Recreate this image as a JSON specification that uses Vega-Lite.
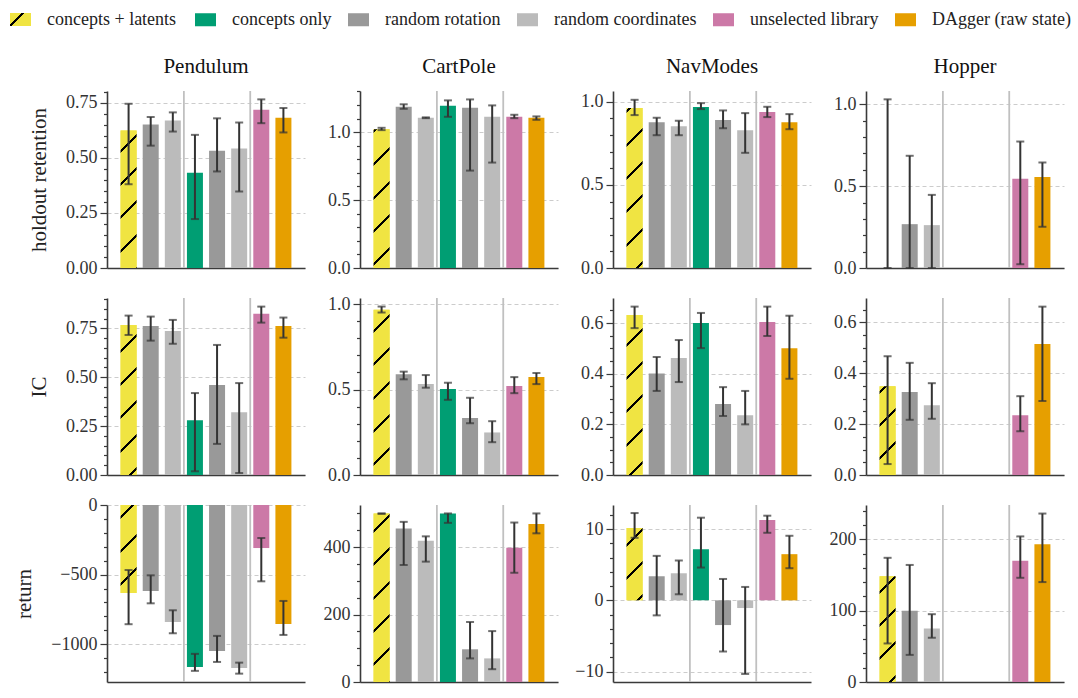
{
"$schema": "https://vega.github.io/schema/vega-lite/v6.json",
"padding": {"left": 10, "top": 9, "right": 0, "bottom": 5},
"datasets": {"d": [
{"env":"Pendulum","metric":"holdout","method":"concepts + latents","pos":0,"mean":0.624,"lo":0.380,"hi":0.745},
{"env":"Pendulum","metric":"holdout","method":"random rotation","pos":1,"mean":0.651,"lo":0.555,"hi":0.685},
{"env":"Pendulum","metric":"holdout","method":"random coordinates","pos":2,"mean":0.669,"lo":0.619,"hi":0.706},
{"env":"Pendulum","metric":"holdout","method":"concepts only","pos":3,"mean":0.432,"lo":0.222,"hi":0.604},
{"env":"Pendulum","metric":"holdout","method":"random rotation","pos":4,"mean":0.532,"lo":0.438,"hi":0.679},
{"env":"Pendulum","metric":"holdout","method":"random coordinates","pos":5,"mean":0.542,"lo":0.347,"hi":0.660},
{"env":"Pendulum","metric":"holdout","method":"unselected library","pos":6,"mean":0.718,"lo":0.657,"hi":0.765},
{"env":"Pendulum","metric":"holdout","method":"DAgger (raw state)","pos":7,"mean":0.682,"lo":0.615,"hi":0.726},
{"env":"CartPole","metric":"holdout","method":"concepts + latents","pos":0,"mean":1.022,"lo":1.015,"hi":1.032},
{"env":"CartPole","metric":"holdout","method":"random rotation","pos":1,"mean":1.187,"lo":1.172,"hi":1.205},
{"env":"CartPole","metric":"holdout","method":"random coordinates","pos":2,"mean":1.106,"lo":1.103,"hi":1.109},
{"env":"CartPole","metric":"holdout","method":"concepts only","pos":3,"mean":1.195,"lo":1.113,"hi":1.234},
{"env":"CartPole","metric":"holdout","method":"random rotation","pos":4,"mean":1.180,"lo":0.717,"hi":1.241},
{"env":"CartPole","metric":"holdout","method":"random coordinates","pos":5,"mean":1.113,"lo":0.776,"hi":1.197},
{"env":"CartPole","metric":"holdout","method":"unselected library","pos":6,"mean":1.113,"lo":1.103,"hi":1.128},
{"env":"CartPole","metric":"holdout","method":"DAgger (raw state)","pos":7,"mean":1.106,"lo":1.091,"hi":1.116},
{"env":"NavModes","metric":"holdout","method":"concepts + latents","pos":0,"mean":0.962,"lo":0.920,"hi":1.012},
{"env":"NavModes","metric":"holdout","method":"random rotation","pos":1,"mean":0.877,"lo":0.799,"hi":0.904},
{"env":"NavModes","metric":"holdout","method":"random coordinates","pos":2,"mean":0.853,"lo":0.799,"hi":0.886},
{"env":"NavModes","metric":"holdout","method":"concepts only","pos":3,"mean":0.968,"lo":0.956,"hi":0.992},
{"env":"NavModes","metric":"holdout","method":"random rotation","pos":4,"mean":0.890,"lo":0.841,"hi":0.948},
{"env":"NavModes","metric":"holdout","method":"random coordinates","pos":5,"mean":0.829,"lo":0.693,"hi":0.932},
{"env":"NavModes","metric":"holdout","method":"unselected library","pos":6,"mean":0.938,"lo":0.908,"hi":0.970},
{"env":"NavModes","metric":"holdout","method":"DAgger (raw state)","pos":7,"mean":0.877,"lo":0.835,"hi":0.926},
{"env":"Hopper","metric":"holdout","method":"concepts + latents","pos":0,"mean":0.0,"lo":0.0,"hi":1.031},
{"env":"Hopper","metric":"holdout","method":"random rotation","pos":1,"mean":0.268,"lo":0.0,"hi":0.686},
{"env":"Hopper","metric":"holdout","method":"random coordinates","pos":2,"mean":0.262,"lo":0.0,"hi":0.447},
{"env":"Hopper","metric":"holdout","method":"unselected library","pos":6,"mean":0.545,"lo":0.023,"hi":0.773},
{"env":"Hopper","metric":"holdout","method":"DAgger (raw state)","pos":7,"mean":0.557,"lo":0.252,"hi":0.645},
{"env":"Pendulum","metric":"IC","method":"concepts + latents","pos":0,"mean":0.767,"lo":0.716,"hi":0.815},
{"env":"Pendulum","metric":"IC","method":"random rotation","pos":1,"mean":0.762,"lo":0.687,"hi":0.810},
{"env":"Pendulum","metric":"IC","method":"random coordinates","pos":2,"mean":0.736,"lo":0.671,"hi":0.793},
{"env":"Pendulum","metric":"IC","method":"concepts only","pos":3,"mean":0.280,"lo":0.019,"hi":0.419},
{"env":"Pendulum","metric":"IC","method":"random rotation","pos":4,"mean":0.460,"lo":0.159,"hi":0.665},
{"env":"Pendulum","metric":"IC","method":"random coordinates","pos":5,"mean":0.321,"lo":0.010,"hi":0.470},
{"env":"Pendulum","metric":"IC","method":"unselected library","pos":6,"mean":0.824,"lo":0.779,"hi":0.861},
{"env":"Pendulum","metric":"IC","method":"DAgger (raw state)","pos":7,"mean":0.762,"lo":0.702,"hi":0.805},
{"env":"CartPole","metric":"IC","method":"concepts + latents","pos":0,"mean":0.967,"lo":0.951,"hi":0.986},
{"env":"CartPole","metric":"IC","method":"random rotation","pos":1,"mean":0.589,"lo":0.560,"hi":0.605},
{"env":"CartPole","metric":"IC","method":"random coordinates","pos":2,"mean":0.532,"lo":0.511,"hi":0.585},
{"env":"CartPole","metric":"IC","method":"concepts only","pos":3,"mean":0.503,"lo":0.440,"hi":0.540},
{"env":"CartPole","metric":"IC","method":"random rotation","pos":4,"mean":0.333,"lo":0.303,"hi":0.452},
{"env":"CartPole","metric":"IC","method":"random coordinates","pos":5,"mean":0.249,"lo":0.192,"hi":0.315},
{"env":"CartPole","metric":"IC","method":"unselected library","pos":6,"mean":0.521,"lo":0.479,"hi":0.573},
{"env":"CartPole","metric":"IC","method":"DAgger (raw state)","pos":7,"mean":0.573,"lo":0.532,"hi":0.597},
{"env":"NavModes","metric":"IC","method":"concepts + latents","pos":0,"mean":0.632,"lo":0.580,"hi":0.665},
{"env":"NavModes","metric":"IC","method":"random rotation","pos":1,"mean":0.401,"lo":0.332,"hi":0.466},
{"env":"NavModes","metric":"IC","method":"random coordinates","pos":2,"mean":0.462,"lo":0.367,"hi":0.533},
{"env":"NavModes","metric":"IC","method":"concepts only","pos":3,"mean":0.600,"lo":0.501,"hi":0.640},
{"env":"NavModes","metric":"IC","method":"random rotation","pos":4,"mean":0.280,"lo":0.233,"hi":0.347},
{"env":"NavModes","metric":"IC","method":"random coordinates","pos":5,"mean":0.236,"lo":0.200,"hi":0.332},
{"env":"NavModes","metric":"IC","method":"unselected library","pos":6,"mean":0.604,"lo":0.549,"hi":0.665},
{"env":"NavModes","metric":"IC","method":"DAgger (raw state)","pos":7,"mean":0.501,"lo":0.380,"hi":0.629},
{"env":"Hopper","metric":"IC","method":"concepts + latents","pos":0,"mean":0.349,"lo":0.043,"hi":0.467},
{"env":"Hopper","metric":"IC","method":"random rotation","pos":1,"mean":0.326,"lo":0.217,"hi":0.441},
{"env":"Hopper","metric":"IC","method":"random coordinates","pos":2,"mean":0.274,"lo":0.221,"hi":0.361},
{"env":"Hopper","metric":"IC","method":"unselected library","pos":6,"mean":0.235,"lo":0.172,"hi":0.310},
{"env":"Hopper","metric":"IC","method":"DAgger (raw state)","pos":7,"mean":0.515,"lo":0.291,"hi":0.662},
{"env":"Pendulum","metric":"return","method":"concepts + latents","pos":0,"mean":-632,"lo":-856,"hi":-467},
{"env":"Pendulum","metric":"return","method":"random rotation","pos":1,"mean":-617,"lo":-706,"hi":-505},
{"env":"Pendulum","metric":"return","method":"random coordinates","pos":2,"mean":-840,"lo":-921,"hi":-756},
{"env":"Pendulum","metric":"return","method":"concepts only","pos":3,"mean":-1163,"lo":-1191,"hi":-1069},
{"env":"Pendulum","metric":"return","method":"random rotation","pos":4,"mean":-1048,"lo":-1127,"hi":-940},
{"env":"Pendulum","metric":"return","method":"random coordinates","pos":5,"mean":-1170,"lo":-1211,"hi":-1132},
{"env":"Pendulum","metric":"return","method":"unselected library","pos":6,"mean":-309,"lo":-548,"hi":-237},
{"env":"Pendulum","metric":"return","method":"DAgger (raw state)","pos":7,"mean":-854,"lo":-933,"hi":-689},
{"env":"CartPole","metric":"return","method":"concepts + latents","pos":0,"mean":500,"lo":499,"hi":500},
{"env":"CartPole","metric":"return","method":"random rotation","pos":1,"mean":455,"lo":347,"hi":475},
{"env":"CartPole","metric":"return","method":"random coordinates","pos":2,"mean":419,"lo":357,"hi":432},
{"env":"CartPole","metric":"return","method":"concepts only","pos":3,"mean":500,"lo":472,"hi":500},
{"env":"CartPole","metric":"return","method":"random rotation","pos":4,"mean":97,"lo":70,"hi":178},
{"env":"CartPole","metric":"return","method":"random coordinates","pos":5,"mean":70,"lo":38,"hi":151},
{"env":"CartPole","metric":"return","method":"unselected library","pos":6,"mean":398,"lo":324,"hi":473},
{"env":"CartPole","metric":"return","method":"DAgger (raw state)","pos":7,"mean":469,"lo":441,"hi":500},
{"env":"NavModes","metric":"return","method":"concepts + latents","pos":0,"mean":10.14,"lo":8.78,"hi":12.25},
{"env":"NavModes","metric":"return","method":"random rotation","pos":1,"mean":3.38,"lo":-2.11,"hi":6.24},
{"env":"NavModes","metric":"return","method":"random coordinates","pos":2,"mean":3.80,"lo":0.85,"hi":5.59},
{"env":"NavModes","metric":"return","method":"concepts only","pos":3,"mean":7.18,"lo":4.60,"hi":11.6},
{"env":"NavModes","metric":"return","method":"random rotation","pos":4,"mean":-3.47,"lo":-7.18,"hi":3.0},
{"env":"NavModes","metric":"return","method":"random coordinates","pos":5,"mean":-1.08,"lo":-10.33,"hi":1.88},
{"env":"NavModes","metric":"return","method":"unselected library","pos":6,"mean":11.27,"lo":9.48,"hi":11.88},
{"env":"NavModes","metric":"return","method":"DAgger (raw state)","pos":7,"mean":6.48,"lo":4.51,"hi":9.06},
{"env":"Hopper","metric":"return","method":"concepts + latents","pos":0,"mean":148,"lo":54,"hi":174},
{"env":"Hopper","metric":"return","method":"random rotation","pos":1,"mean":100,"lo":38,"hi":164},
{"env":"Hopper","metric":"return","method":"random coordinates","pos":2,"mean":75,"lo":62,"hi":95},
{"env":"Hopper","metric":"return","method":"unselected library","pos":6,"mean":170,"lo":146,"hi":204},
{"env":"Hopper","metric":"return","method":"DAgger (raw state)","pos":7,"mean":193,"lo":140,"hi":236}
]},
"columns": 4,
"spacing": {"row": 30, "column": 55},
"bounds": "flush",
"concat": [
{"width": 198, "height": 177, "title": {"text": "Pendulum", "frame": "group", "offset": 13},
 "layer": [
  {"data": {"values": [{}]}, "mark": {"type": "rule", "color": "#c0c0c0", "strokeWidth": 1.8}, "encoding": {"x": {"datum": 2.5, "type": "quantitative"}}},
  {"data": {"values": [{}]}, "mark": {"type": "rule", "color": "#c0c0c0", "strokeWidth": 1.8}, "encoding": {"x": {"datum": 5.5, "type": "quantitative"}}},
  {"data": {"name": "d"}, "transform": [{"filter": "datum.env === 'Pendulum' && datum.metric === 'holdout'"}],
   "layer": [
    {"mark": {"type": "bar", "size": 16}, "encoding": {
      "x": {"field": "pos", "type": "quantitative", "scale": {"domain": [-0.75, 7.75], "nice": false, "zero": false}, "axis": {"ticks": false, "labels": false, "grid": false, "title": null}},
      "y": {"field": "mean", "type": "quantitative", "scale": {"domain": [0, 0.803], "nice": false, "zero": false},
        "axis": {"title": "holdout retention", "tickCount": 100, "labelFont": "Liberation Serif", "labelOverlap": false, "values": [0,0.05,0.1,0.15,0.2,0.25,0.3,0.35,0.4,0.45,0.5,0.55,0.6,0.65,0.7,0.75,0.8], "format": ".2f",
          "labelExpr": "indexof([0,0.25,0.5,0.75], datum.value) >= 0 ? datum.label : ''",
          "labelFontSize": {"condition": {"test": "indexof([0,0.25,0.5,0.75], datum.value) >= 0", "value": 18}, "value": 0},
          "tickSize": {"condition": {"test": "indexof([0,0.25,0.5,0.75], datum.value) >= 0", "value": 7}, "value": 3.5},
          "gridOpacity": {"condition": {"test": "indexof([0,0.25,0.5,0.75], datum.value) >= 0", "value": 1}, "value": 0}}},
      "y2": {"datum": 0},
      "color": {"field": "method", "type": "nominal",
        "scale": {"domain": ["concepts + latents", "concepts only", "random rotation", "random coordinates", "unselected library", "DAgger (raw state)"], "range": ["#F0E442", "#009E73", "#999999", "#BBBBBB", "#CC79A7", "#E69F00"]},
        "legend": {"title": null, "orient": "none", "legendX": 88, "legendY": -82, "direction": "horizontal", "labelFont": "Liberation Serif", "labelFontSize": 18,
          "values": ["concepts only", "random rotation", "random coordinates", "unselected library", "DAgger (raw state)"]}}}},
    {"transform": [{"filter": "datum.pos === 0"}], "mark": {"type": "bar", "size": 16, "color": {"gradient": "linear", "x1": 0, "y1": 0, "x2": 0.1282, "y2": 1.1015, "stops": [
      {"offset": 0, "color": "#F0E442"}, {"offset": 0.1247, "color": "#F0E442"}, {"offset": 0.1247, "color": "#000"}, {"offset": 0.1442, "color": "#000"}, {"offset": 0.1442, "color": "#F0E442"},
      {"offset": 0.3418, "color": "#F0E442"}, {"offset": 0.3418, "color": "#000"}, {"offset": 0.3614, "color": "#000"}, {"offset": 0.3614, "color": "#F0E442"},
      {"offset": 0.5590, "color": "#F0E442"}, {"offset": 0.5590, "color": "#000"}, {"offset": 0.5785, "color": "#000"}, {"offset": 0.5785, "color": "#F0E442"},
      {"offset": 0.7761, "color": "#F0E442"}, {"offset": 0.7761, "color": "#000"}, {"offset": 0.7956, "color": "#000"}, {"offset": 0.7956, "color": "#F0E442"},
      {"offset": 0.9932, "color": "#F0E442"}, {"offset": 0.9932, "color": "#000"}, {"offset": 1, "color": "#000"}]}},
     "encoding": {"x": {"field": "pos", "type": "quantitative"}, "y": {"field": "mean", "type": "quantitative"}, "y2": {"datum": 0}}},
    {"transform": [{"filter": "false"}], "mark": {"type": "bar", "size": 16, "color": {"gradient": "linear", "x1": 0, "y1": 0, "x2": 1.1705, "y2": 0.7246, "stops": [
      {"offset": 0, "color": "#F0E442"}, {"offset": 0.33, "color": "#F0E442"}, {"offset": 0.33, "color": "#000"}, {"offset": 0.43, "color": "#000"}, {"offset": 0.43, "color": "#F0E442"}, {"offset": 1, "color": "#F0E442"}]}},
     "encoding": {"x": {"field": "pos", "type": "quantitative"}, "y": {"field": "mean", "type": "quantitative"},
       "opacity": {"datum": "concepts + latents", "type": "nominal", "scale": {"domain": ["concepts + latents"], "range": [1]},
         "legend": {"title": null, "orient": "none", "legendX": -97, "legendY": -82, "direction": "horizontal", "labelFont": "Liberation Serif", "labelFontSize": 18, "symbolType": "M-1,-0.62H1V0.62H-1Z", "symbolSize": 441}}}},
    {"mark": {"type": "rule", "color": "#333333", "strokeWidth": 2}, "encoding": {"x": {"field": "pos", "type": "quantitative"}, "y": {"field": "lo", "type": "quantitative"}, "y2": {"field": "hi"}}},
    {"mark": {"type": "tick", "orient": "horizontal", "size": 8, "thickness": 2, "color": "#333333"}, "encoding": {"x": {"field": "pos", "type": "quantitative"}, "y": {"field": "lo", "type": "quantitative"}}},
    {"mark": {"type": "tick", "orient": "horizontal", "size": 8, "thickness": 2, "color": "#333333"}, "encoding": {"x": {"field": "pos", "type": "quantitative"}, "y": {"field": "hi", "type": "quantitative"}}}
   ]}
 ]},
{"width": 198, "height": 177, "title": {"text": "CartPole", "frame": "group", "offset": 13},
 "layer": [
  {"data": {"values": [{}]}, "mark": {"type": "rule", "color": "#c0c0c0", "strokeWidth": 1.8}, "encoding": {"x": {"datum": 2.5, "type": "quantitative"}}},
  {"data": {"values": [{}]}, "mark": {"type": "rule", "color": "#c0c0c0", "strokeWidth": 1.8}, "encoding": {"x": {"datum": 5.5, "type": "quantitative"}}},
  {"data": {"name": "d"}, "transform": [{"filter": "datum.env === 'CartPole' && datum.metric === 'holdout'"}],
   "layer": [
    {"mark": {"type": "bar", "size": 16}, "encoding": {
      "x": {"field": "pos", "type": "quantitative", "scale": {"domain": [-0.75, 7.75], "nice": false, "zero": false}, "axis": {"ticks": false, "labels": false, "grid": false, "title": null}},
      "y": {"field": "mean", "type": "quantitative", "scale": {"domain": [0, 1.303], "nice": false, "zero": false},
        "axis": {"title": null, "tickCount": 100, "labelFont": "Liberation Serif", "labelOverlap": false, "values": [0,0.1,0.2,0.3,0.4,0.5,0.6,0.7,0.8,0.9,1,1.1,1.2,1.3], "format": ".1f",
          "labelExpr": "indexof([0,0.5,1], datum.value) >= 0 ? datum.label : ''",
          "labelFontSize": {"condition": {"test": "indexof([0,0.5,1], datum.value) >= 0", "value": 18}, "value": 0},
          "tickSize": {"condition": {"test": "indexof([0,0.5,1], datum.value) >= 0", "value": 7}, "value": 3.5},
          "gridOpacity": {"condition": {"test": "indexof([0,0.5,1], datum.value) >= 0", "value": 1}, "value": 0}}},
      "y2": {"datum": 0},
      "color": {"field": "method", "type": "nominal", "scale": {"domain": ["concepts + latents", "concepts only", "random rotation", "random coordinates", "unselected library", "DAgger (raw state)"], "range": ["#F0E442", "#009E73", "#999999", "#BBBBBB", "#CC79A7", "#E69F00"]}}}},
    {"transform": [{"filter": "datum.pos === 0"}], "mark": {"type": "bar", "size": 16, "color": {"gradient": "linear", "x1": 0, "y1": 0, "x2": 0.1269, "y2": 1.1007, "stops": [
      {"offset": 0, "color": "#F0E442"}, {"offset": 0.0048, "color": "#F0E442"}, {"offset": 0.0048, "color": "#000"}, {"offset": 0.0242, "color": "#000"}, {"offset": 0.0242, "color": "#F0E442"},
      {"offset": 0.2202, "color": "#F0E442"}, {"offset": 0.2202, "color": "#000"}, {"offset": 0.2395, "color": "#000"}, {"offset": 0.2395, "color": "#F0E442"},
      {"offset": 0.4355, "color": "#F0E442"}, {"offset": 0.4355, "color": "#000"}, {"offset": 0.4548, "color": "#000"}, {"offset": 0.4548, "color": "#F0E442"},
      {"offset": 0.6508, "color": "#F0E442"}, {"offset": 0.6508, "color": "#000"}, {"offset": 0.6702, "color": "#000"}, {"offset": 0.6702, "color": "#F0E442"},
      {"offset": 0.8661, "color": "#F0E442"}, {"offset": 0.8661, "color": "#000"}, {"offset": 0.8855, "color": "#000"}, {"offset": 0.8855, "color": "#F0E442"},
      {"offset": 1, "color": "#F0E442"}]}},
     "encoding": {"x": {"field": "pos", "type": "quantitative"}, "y": {"field": "mean", "type": "quantitative"}, "y2": {"datum": 0}}},
    {"mark": {"type": "rule", "color": "#333333", "strokeWidth": 2}, "encoding": {"x": {"field": "pos", "type": "quantitative"}, "y": {"field": "lo", "type": "quantitative"}, "y2": {"field": "hi"}}},
    {"mark": {"type": "tick", "orient": "horizontal", "size": 8, "thickness": 2, "color": "#333333"}, "encoding": {"x": {"field": "pos", "type": "quantitative"}, "y": {"field": "lo", "type": "quantitative"}}},
    {"mark": {"type": "tick", "orient": "horizontal", "size": 8, "thickness": 2, "color": "#333333"}, "encoding": {"x": {"field": "pos", "type": "quantitative"}, "y": {"field": "hi", "type": "quantitative"}}}
   ]}
 ]},
{"width": 198, "height": 177, "title": {"text": "NavModes", "frame": "group", "offset": 13},
 "layer": [
  {"data": {"values": [{}]}, "mark": {"type": "rule", "color": "#c0c0c0", "strokeWidth": 1.8}, "encoding": {"x": {"datum": 2.5, "type": "quantitative"}}},
  {"data": {"values": [{}]}, "mark": {"type": "rule", "color": "#c0c0c0", "strokeWidth": 1.8}, "encoding": {"x": {"datum": 5.5, "type": "quantitative"}}},
  {"data": {"name": "d"}, "transform": [{"filter": "datum.env === 'NavModes' && datum.metric === 'holdout'"}],
   "layer": [
    {"mark": {"type": "bar", "size": 16}, "encoding": {
      "x": {"field": "pos", "type": "quantitative", "scale": {"domain": [-0.75, 7.75], "nice": false, "zero": false}, "axis": {"ticks": false, "labels": false, "grid": false, "title": null}},
      "y": {"field": "mean", "type": "quantitative", "scale": {"domain": [0, 1.065], "nice": false, "zero": false},
        "axis": {"title": null, "tickCount": 100, "labelFont": "Liberation Serif", "labelOverlap": false, "values": [0,0.1,0.2,0.3,0.4,0.5,0.6,0.7,0.8,0.9,1], "format": ".1f",
          "labelExpr": "indexof([0,0.5,1], datum.value) >= 0 ? datum.label : ''",
          "labelFontSize": {"condition": {"test": "indexof([0,0.5,1], datum.value) >= 0", "value": 18}, "value": 0},
          "tickSize": {"condition": {"test": "indexof([0,0.5,1], datum.value) >= 0", "value": 7}, "value": 3.5},
          "gridOpacity": {"condition": {"test": "indexof([0,0.5,1], datum.value) >= 0", "value": 1}, "value": 0}}},
      "y2": {"datum": 0},
      "color": {"field": "method", "type": "nominal", "scale": {"domain": ["concepts + latents", "concepts only", "random rotation", "random coordinates", "unselected library", "DAgger (raw state)"], "range": ["#F0E442", "#009E73", "#999999", "#BBBBBB", "#CC79A7", "#E69F00"]}}}},
    {"transform": [{"filter": "datum.pos === 0"}], "mark": {"type": "bar", "size": 16, "color": {"gradient": "linear", "x1": 0, "y1": 0, "x2": 0.1090, "y2": 1.0892, "stops": [
      {"offset": 0, "color": "#F0E442"}, {"offset": 0.0123, "color": "#F0E442"}, {"offset": 0.0123, "color": "#000"}, {"offset": 0.0293, "color": "#000"}, {"offset": 0.0293, "color": "#F0E442"},
      {"offset": 0.2018, "color": "#F0E442"}, {"offset": 0.2018, "color": "#000"}, {"offset": 0.2188, "color": "#000"}, {"offset": 0.2188, "color": "#F0E442"},
      {"offset": 0.3912, "color": "#F0E442"}, {"offset": 0.3912, "color": "#000"}, {"offset": 0.4083, "color": "#000"}, {"offset": 0.4083, "color": "#F0E442"},
      {"offset": 0.5807, "color": "#F0E442"}, {"offset": 0.5807, "color": "#000"}, {"offset": 0.5978, "color": "#000"}, {"offset": 0.5978, "color": "#F0E442"},
      {"offset": 0.7702, "color": "#F0E442"}, {"offset": 0.7702, "color": "#000"}, {"offset": 0.7873, "color": "#000"}, {"offset": 0.7873, "color": "#F0E442"},
      {"offset": 0.9597, "color": "#F0E442"}, {"offset": 0.9597, "color": "#000"}, {"offset": 0.9767, "color": "#000"}, {"offset": 0.9767, "color": "#F0E442"},
      {"offset": 1, "color": "#F0E442"}]}},
     "encoding": {"x": {"field": "pos", "type": "quantitative"}, "y": {"field": "mean", "type": "quantitative"}, "y2": {"datum": 0}}},
    {"mark": {"type": "rule", "color": "#333333", "strokeWidth": 2}, "encoding": {"x": {"field": "pos", "type": "quantitative"}, "y": {"field": "lo", "type": "quantitative"}, "y2": {"field": "hi"}}},
    {"mark": {"type": "tick", "orient": "horizontal", "size": 8, "thickness": 2, "color": "#333333"}, "encoding": {"x": {"field": "pos", "type": "quantitative"}, "y": {"field": "lo", "type": "quantitative"}}},
    {"mark": {"type": "tick", "orient": "horizontal", "size": 8, "thickness": 2, "color": "#333333"}, "encoding": {"x": {"field": "pos", "type": "quantitative"}, "y": {"field": "hi", "type": "quantitative"}}}
   ]}
 ]},
{"width": 198, "height": 177, "title": {"text": "Hopper", "frame": "group", "offset": 13},
 "layer": [
  {"data": {"values": [{}]}, "mark": {"type": "rule", "color": "#c0c0c0", "strokeWidth": 1.8}, "encoding": {"x": {"datum": 2.5, "type": "quantitative"}}},
  {"data": {"values": [{}]}, "mark": {"type": "rule", "color": "#c0c0c0", "strokeWidth": 1.8}, "encoding": {"x": {"datum": 5.5, "type": "quantitative"}}},
  {"data": {"name": "d"}, "transform": [{"filter": "datum.env === 'Hopper' && datum.metric === 'holdout'"}],
   "layer": [
    {"mark": {"type": "bar", "size": 16}, "encoding": {
      "x": {"field": "pos", "type": "quantitative", "scale": {"domain": [-0.75, 7.75], "nice": false, "zero": false}, "axis": {"ticks": false, "labels": false, "grid": false, "title": null}},
      "y": {"field": "mean", "type": "quantitative", "scale": {"domain": [0, 1.082], "nice": false, "zero": false},
        "axis": {"title": null, "tickCount": 100, "labelFont": "Liberation Serif", "labelOverlap": false, "values": [0,0.1,0.2,0.3,0.4,0.5,0.6,0.7,0.8,0.9,1], "format": ".1f",
          "labelExpr": "indexof([0,0.5,1], datum.value) >= 0 ? datum.label : ''",
          "labelFontSize": {"condition": {"test": "indexof([0,0.5,1], datum.value) >= 0", "value": 18}, "value": 0},
          "tickSize": {"condition": {"test": "indexof([0,0.5,1], datum.value) >= 0", "value": 7}, "value": 3.5},
          "gridOpacity": {"condition": {"test": "indexof([0,0.5,1], datum.value) >= 0", "value": 1}, "value": 0}}},
      "y2": {"datum": 0},
      "color": {"field": "method", "type": "nominal", "scale": {"domain": ["concepts + latents", "concepts only", "random rotation", "random coordinates", "unselected library", "DAgger (raw state)"], "range": ["#F0E442", "#009E73", "#999999", "#BBBBBB", "#CC79A7", "#E69F00"]}}}},
    {"mark": {"type": "rule", "color": "#333333", "strokeWidth": 2}, "encoding": {"x": {"field": "pos", "type": "quantitative"}, "y": {"field": "lo", "type": "quantitative"}, "y2": {"field": "hi"}}},
    {"mark": {"type": "tick", "orient": "horizontal", "size": 8, "thickness": 2, "color": "#333333"}, "encoding": {"x": {"field": "pos", "type": "quantitative"}, "y": {"field": "lo", "type": "quantitative"}}},
    {"mark": {"type": "tick", "orient": "horizontal", "size": 8, "thickness": 2, "color": "#333333"}, "encoding": {"x": {"field": "pos", "type": "quantitative"}, "y": {"field": "hi", "type": "quantitative"}}}
   ]}
 ]},
{"width": 198, "height": 177,
 "layer": [
  {"data": {"values": [{}]}, "mark": {"type": "rule", "color": "#c0c0c0", "strokeWidth": 1.8}, "encoding": {"x": {"datum": 2.5, "type": "quantitative"}}},
  {"data": {"values": [{}]}, "mark": {"type": "rule", "color": "#c0c0c0", "strokeWidth": 1.8}, "encoding": {"x": {"datum": 5.5, "type": "quantitative"}}},
  {"data": {"name": "d"}, "transform": [{"filter": "datum.env === 'Pendulum' && datum.metric === 'IC'"}],
   "layer": [
    {"mark": {"type": "bar", "size": 16}, "encoding": {
      "x": {"field": "pos", "type": "quantitative", "scale": {"domain": [-0.75, 7.75], "nice": false, "zero": false}, "axis": {"ticks": false, "labels": false, "grid": false, "title": null}},
      "y": {"field": "mean", "type": "quantitative", "scale": {"domain": [0, 0.905], "nice": false, "zero": false},
        "axis": {"title": "IC", "tickCount": 100, "labelFont": "Liberation Serif", "labelOverlap": false, "values": [0,0.05,0.1,0.15,0.2,0.25,0.3,0.35,0.4,0.45,0.5,0.55,0.6,0.65,0.7,0.75,0.8,0.85,0.9], "format": ".2f",
          "labelExpr": "indexof([0,0.25,0.5,0.75], datum.value) >= 0 ? datum.label : ''",
          "labelFontSize": {"condition": {"test": "indexof([0,0.25,0.5,0.75], datum.value) >= 0", "value": 18}, "value": 0},
          "tickSize": {"condition": {"test": "indexof([0,0.25,0.5,0.75], datum.value) >= 0", "value": 7}, "value": 3.5},
          "gridOpacity": {"condition": {"test": "indexof([0,0.25,0.5,0.75], datum.value) >= 0", "value": 1}, "value": 0}}},
      "y2": {"datum": 0},
      "color": {"field": "method", "type": "nominal", "scale": {"domain": ["concepts + latents", "concepts only", "random rotation", "random coordinates", "unselected library", "DAgger (raw state)"], "range": ["#F0E442", "#009E73", "#999999", "#BBBBBB", "#CC79A7", "#E69F00"]}}}},
    {"transform": [{"filter": "datum.pos === 0"}], "mark": {"type": "bar", "size": 16, "color": {"gradient": "linear", "x1": 0, "y1": 0, "x2": 0.1167, "y2": 1.0942, "stops": [
      {"offset": 0, "color": "#F0E442"}, {"offset": 0.1483, "color": "#F0E442"}, {"offset": 0.1483, "color": "#000"}, {"offset": 0.1664, "color": "#000"}, {"offset": 0.1664, "color": "#F0E442"},
      {"offset": 0.3491, "color": "#F0E442"}, {"offset": 0.3491, "color": "#000"}, {"offset": 0.3672, "color": "#000"}, {"offset": 0.3672, "color": "#F0E442"},
      {"offset": 0.5499, "color": "#F0E442"}, {"offset": 0.5499, "color": "#000"}, {"offset": 0.5680, "color": "#000"}, {"offset": 0.5680, "color": "#F0E442"},
      {"offset": 0.7507, "color": "#F0E442"}, {"offset": 0.7507, "color": "#000"}, {"offset": 0.7687, "color": "#000"}, {"offset": 0.7687, "color": "#F0E442"},
      {"offset": 0.9514, "color": "#F0E442"}, {"offset": 0.9514, "color": "#000"}, {"offset": 0.9695, "color": "#000"}, {"offset": 0.9695, "color": "#F0E442"},
      {"offset": 1, "color": "#F0E442"}]}},
     "encoding": {"x": {"field": "pos", "type": "quantitative"}, "y": {"field": "mean", "type": "quantitative"}, "y2": {"datum": 0}}},
    {"mark": {"type": "rule", "color": "#333333", "strokeWidth": 2}, "encoding": {"x": {"field": "pos", "type": "quantitative"}, "y": {"field": "lo", "type": "quantitative"}, "y2": {"field": "hi"}}},
    {"mark": {"type": "tick", "orient": "horizontal", "size": 8, "thickness": 2, "color": "#333333"}, "encoding": {"x": {"field": "pos", "type": "quantitative"}, "y": {"field": "lo", "type": "quantitative"}}},
    {"mark": {"type": "tick", "orient": "horizontal", "size": 8, "thickness": 2, "color": "#333333"}, "encoding": {"x": {"field": "pos", "type": "quantitative"}, "y": {"field": "hi", "type": "quantitative"}}}
   ]}
 ]},
{"width": 198, "height": 177,
 "layer": [
  {"data": {"values": [{}]}, "mark": {"type": "rule", "color": "#c0c0c0", "strokeWidth": 1.8}, "encoding": {"x": {"datum": 2.5, "type": "quantitative"}}},
  {"data": {"values": [{}]}, "mark": {"type": "rule", "color": "#c0c0c0", "strokeWidth": 1.8}, "encoding": {"x": {"datum": 5.5, "type": "quantitative"}}},
  {"data": {"name": "d"}, "transform": [{"filter": "datum.env === 'CartPole' && datum.metric === 'IC'"}],
   "layer": [
    {"mark": {"type": "bar", "size": 16}, "encoding": {
      "x": {"field": "pos", "type": "quantitative", "scale": {"domain": [-0.75, 7.75], "nice": false, "zero": false}, "axis": {"ticks": false, "labels": false, "grid": false, "title": null}},
      "y": {"field": "mean", "type": "quantitative", "scale": {"domain": [0, 1.036], "nice": false, "zero": false},
        "axis": {"title": null, "tickCount": 100, "labelFont": "Liberation Serif", "labelOverlap": false, "values": [0,0.1,0.2,0.3,0.4,0.5,0.6,0.7,0.8,0.9,1], "format": ".1f",
          "labelExpr": "indexof([0,0.5,1], datum.value) >= 0 ? datum.label : ''",
          "labelFontSize": {"condition": {"test": "indexof([0,0.5,1], datum.value) >= 0", "value": 18}, "value": 0},
          "tickSize": {"condition": {"test": "indexof([0,0.5,1], datum.value) >= 0", "value": 7}, "value": 3.5},
          "gridOpacity": {"condition": {"test": "indexof([0,0.5,1], datum.value) >= 0", "value": 1}, "value": 0}}},
      "y2": {"datum": 0},
      "color": {"field": "method", "type": "nominal", "scale": {"domain": ["concepts + latents", "concepts only", "random rotation", "random coordinates", "unselected library", "DAgger (raw state)"], "range": ["#F0E442", "#009E73", "#999999", "#BBBBBB", "#CC79A7", "#E69F00"]}}}},
    {"transform": [{"filter": "datum.pos === 0"}], "mark": {"type": "bar", "size": 16, "color": {"gradient": "linear", "x1": 0, "y1": 0, "x2": 0.1052, "y2": 1.0867, "stops": [
      {"offset": 0, "color": "#F0E442"}, {"offset": 0.1111, "color": "#F0E442"}, {"offset": 0.1111, "color": "#000"}, {"offset": 0.1276, "color": "#000"}, {"offset": 0.1276, "color": "#F0E442"},
      {"offset": 0.2950, "color": "#F0E442"}, {"offset": 0.2950, "color": "#000"}, {"offset": 0.3116, "color": "#000"}, {"offset": 0.3116, "color": "#F0E442"},
      {"offset": 0.4790, "color": "#F0E442"}, {"offset": 0.4790, "color": "#000"}, {"offset": 0.4955, "color": "#000"}, {"offset": 0.4955, "color": "#F0E442"},
      {"offset": 0.6629, "color": "#F0E442"}, {"offset": 0.6629, "color": "#000"}, {"offset": 0.6795, "color": "#000"}, {"offset": 0.6795, "color": "#F0E442"},
      {"offset": 0.8469, "color": "#F0E442"}, {"offset": 0.8469, "color": "#000"}, {"offset": 0.8634, "color": "#000"}, {"offset": 0.8634, "color": "#F0E442"},
      {"offset": 1, "color": "#F0E442"}]}},
     "encoding": {"x": {"field": "pos", "type": "quantitative"}, "y": {"field": "mean", "type": "quantitative"}, "y2": {"datum": 0}}},
    {"mark": {"type": "rule", "color": "#333333", "strokeWidth": 2}, "encoding": {"x": {"field": "pos", "type": "quantitative"}, "y": {"field": "lo", "type": "quantitative"}, "y2": {"field": "hi"}}},
    {"mark": {"type": "tick", "orient": "horizontal", "size": 8, "thickness": 2, "color": "#333333"}, "encoding": {"x": {"field": "pos", "type": "quantitative"}, "y": {"field": "lo", "type": "quantitative"}}},
    {"mark": {"type": "tick", "orient": "horizontal", "size": 8, "thickness": 2, "color": "#333333"}, "encoding": {"x": {"field": "pos", "type": "quantitative"}, "y": {"field": "hi", "type": "quantitative"}}}
   ]}
 ]},
{"width": 198, "height": 177,
 "layer": [
  {"data": {"values": [{}]}, "mark": {"type": "rule", "color": "#c0c0c0", "strokeWidth": 1.8}, "encoding": {"x": {"datum": 2.5, "type": "quantitative"}}},
  {"data": {"values": [{}]}, "mark": {"type": "rule", "color": "#c0c0c0", "strokeWidth": 1.8}, "encoding": {"x": {"datum": 5.5, "type": "quantitative"}}},
  {"data": {"name": "d"}, "transform": [{"filter": "datum.env === 'NavModes' && datum.metric === 'IC'"}],
   "layer": [
    {"mark": {"type": "bar", "size": 16}, "encoding": {
      "x": {"field": "pos", "type": "quantitative", "scale": {"domain": [-0.75, 7.75], "nice": false, "zero": false}, "axis": {"ticks": false, "labels": false, "grid": false, "title": null}},
      "y": {"field": "mean", "type": "quantitative", "scale": {"domain": [0, 0.699], "nice": false, "zero": false},
        "axis": {"title": null, "tickCount": 100, "labelFont": "Liberation Serif", "labelOverlap": false, "values": [0,0.05,0.1,0.15,0.2,0.25,0.3,0.35,0.4,0.45,0.5,0.55,0.6,0.65], "format": ".1f",
          "labelExpr": "indexof([0,0.2,0.4,0.6], datum.value) >= 0 ? datum.label : ''",
          "labelFontSize": {"condition": {"test": "indexof([0,0.2,0.4,0.6], datum.value) >= 0", "value": 18}, "value": 0},
          "tickSize": {"condition": {"test": "indexof([0,0.2,0.4,0.6], datum.value) >= 0", "value": 7}, "value": 3.5},
          "gridOpacity": {"condition": {"test": "indexof([0,0.2,0.4,0.6], datum.value) >= 0", "value": 1}, "value": 0}}},
      "y2": {"datum": 0},
      "color": {"field": "method", "type": "nominal", "scale": {"domain": ["concepts + latents", "concepts only", "random rotation", "random coordinates", "unselected library", "DAgger (raw state)"], "range": ["#F0E442", "#009E73", "#999999", "#BBBBBB", "#CC79A7", "#E69F00"]}}}},
    {"transform": [{"filter": "datum.pos === 0"}], "mark": {"type": "bar", "size": 16, "color": {"gradient": "linear", "x1": 0, "y1": 0, "x2": 0.1089, "y2": 1.0891, "stops": [
      {"offset": 0, "color": "#F0E442"}, {"offset": 0.1623, "color": "#F0E442"}, {"offset": 0.1623, "color": "#000"}, {"offset": 0.1794, "color": "#000"}, {"offset": 0.1794, "color": "#F0E442"},
      {"offset": 0.3517, "color": "#F0E442"}, {"offset": 0.3517, "color": "#000"}, {"offset": 0.3688, "color": "#000"}, {"offset": 0.3688, "color": "#F0E442"},
      {"offset": 0.5411, "color": "#F0E442"}, {"offset": 0.5411, "color": "#000"}, {"offset": 0.5581, "color": "#000"}, {"offset": 0.5581, "color": "#F0E442"},
      {"offset": 0.7305, "color": "#F0E442"}, {"offset": 0.7305, "color": "#000"}, {"offset": 0.7475, "color": "#000"}, {"offset": 0.7475, "color": "#F0E442"},
      {"offset": 0.9198, "color": "#F0E442"}, {"offset": 0.9198, "color": "#000"}, {"offset": 0.9369, "color": "#000"}, {"offset": 0.9369, "color": "#F0E442"},
      {"offset": 1, "color": "#F0E442"}]}},
     "encoding": {"x": {"field": "pos", "type": "quantitative"}, "y": {"field": "mean", "type": "quantitative"}, "y2": {"datum": 0}}},
    {"mark": {"type": "rule", "color": "#333333", "strokeWidth": 2}, "encoding": {"x": {"field": "pos", "type": "quantitative"}, "y": {"field": "lo", "type": "quantitative"}, "y2": {"field": "hi"}}},
    {"mark": {"type": "tick", "orient": "horizontal", "size": 8, "thickness": 2, "color": "#333333"}, "encoding": {"x": {"field": "pos", "type": "quantitative"}, "y": {"field": "lo", "type": "quantitative"}}},
    {"mark": {"type": "tick", "orient": "horizontal", "size": 8, "thickness": 2, "color": "#333333"}, "encoding": {"x": {"field": "pos", "type": "quantitative"}, "y": {"field": "hi", "type": "quantitative"}}}
   ]}
 ]},
{"width": 198, "height": 177,
 "layer": [
  {"data": {"values": [{}]}, "mark": {"type": "rule", "color": "#c0c0c0", "strokeWidth": 1.8}, "encoding": {"x": {"datum": 2.5, "type": "quantitative"}}},
  {"data": {"values": [{}]}, "mark": {"type": "rule", "color": "#c0c0c0", "strokeWidth": 1.8}, "encoding": {"x": {"datum": 5.5, "type": "quantitative"}}},
  {"data": {"name": "d"}, "transform": [{"filter": "datum.env === 'Hopper' && datum.metric === 'IC'"}],
   "layer": [
    {"mark": {"type": "bar", "size": 16}, "encoding": {
      "x": {"field": "pos", "type": "quantitative", "scale": {"domain": [-0.75, 7.75], "nice": false, "zero": false}, "axis": {"ticks": false, "labels": false, "grid": false, "title": null}},
      "y": {"field": "mean", "type": "quantitative", "scale": {"domain": [0, 0.696], "nice": false, "zero": false},
        "axis": {"title": null, "tickCount": 100, "labelFont": "Liberation Serif", "labelOverlap": false, "values": [0,0.05,0.1,0.15,0.2,0.25,0.3,0.35,0.4,0.45,0.5,0.55,0.6,0.65], "format": ".1f",
          "labelExpr": "indexof([0,0.2,0.4,0.6], datum.value) >= 0 ? datum.label : ''",
          "labelFontSize": {"condition": {"test": "indexof([0,0.2,0.4,0.6], datum.value) >= 0", "value": 18}, "value": 0},
          "tickSize": {"condition": {"test": "indexof([0,0.2,0.4,0.6], datum.value) >= 0", "value": 7}, "value": 3.5},
          "gridOpacity": {"condition": {"test": "indexof([0,0.2,0.4,0.6], datum.value) >= 0", "value": 1}, "value": 0}}},
      "y2": {"datum": 0},
      "color": {"field": "method", "type": "nominal", "scale": {"domain": ["concepts + latents", "concepts only", "random rotation", "random coordinates", "unselected library", "DAgger (raw state)"], "range": ["#F0E442", "#009E73", "#999999", "#BBBBBB", "#CC79A7", "#E69F00"]}}}},
    {"transform": [{"filter": "datum.pos === 0"}], "mark": {"type": "bar", "size": 16, "color": {"gradient": "linear", "x1": 0, "y1": 0, "x2": 0.2060, "y2": 1.1431, "stops": [
      {"offset": 0, "color": "#F0E442"}, {"offset": 0.0414, "color": "#F0E442"}, {"offset": 0.0414, "color": "#000"}, {"offset": 0.0700, "color": "#000"}, {"offset": 0.0700, "color": "#F0E442"},
      {"offset": 0.3594, "color": "#F0E442"}, {"offset": 0.3594, "color": "#000"}, {"offset": 0.3881, "color": "#000"}, {"offset": 0.3881, "color": "#F0E442"},
      {"offset": 0.6775, "color": "#F0E442"}, {"offset": 0.6775, "color": "#000"}, {"offset": 0.7061, "color": "#000"}, {"offset": 0.7061, "color": "#F0E442"},
      {"offset": 0.9955, "color": "#F0E442"}, {"offset": 0.9955, "color": "#000"}, {"offset": 1, "color": "#000"}]}},
     "encoding": {"x": {"field": "pos", "type": "quantitative"}, "y": {"field": "mean", "type": "quantitative"}, "y2": {"datum": 0}}},
    {"mark": {"type": "rule", "color": "#333333", "strokeWidth": 2}, "encoding": {"x": {"field": "pos", "type": "quantitative"}, "y": {"field": "lo", "type": "quantitative"}, "y2": {"field": "hi"}}},
    {"mark": {"type": "tick", "orient": "horizontal", "size": 8, "thickness": 2, "color": "#333333"}, "encoding": {"x": {"field": "pos", "type": "quantitative"}, "y": {"field": "lo", "type": "quantitative"}}},
    {"mark": {"type": "tick", "orient": "horizontal", "size": 8, "thickness": 2, "color": "#333333"}, "encoding": {"x": {"field": "pos", "type": "quantitative"}, "y": {"field": "hi", "type": "quantitative"}}}
   ]}
 ]},
{"width": 198, "height": 177,
 "layer": [
  {"data": {"values": [{}]}, "mark": {"type": "rule", "color": "#c0c0c0", "strokeWidth": 1.8}, "encoding": {"x": {"datum": 2.5, "type": "quantitative"}}},
  {"data": {"values": [{}]}, "mark": {"type": "rule", "color": "#c0c0c0", "strokeWidth": 1.8}, "encoding": {"x": {"datum": 5.5, "type": "quantitative"}}},
  {"data": {"name": "d"}, "transform": [{"filter": "datum.env === 'Pendulum' && datum.metric === 'return'"}],
   "layer": [
    {"mark": {"type": "bar", "size": 16}, "encoding": {
      "x": {"field": "pos", "type": "quantitative", "scale": {"domain": [-0.75, 7.75], "nice": false, "zero": false}, "axis": {"ticks": false, "labels": false, "grid": false, "title": null}},
      "y": {"field": "mean", "type": "quantitative", "scale": {"domain": [-1271, 0], "nice": false, "zero": false},
        "axis": {"title": "return", "tickCount": 100, "labelFont": "Liberation Serif", "labelOverlap": false, "values": [-1200,-1100,-1000,-900,-800,-700,-600,-500,-400,-300,-200,-100,0], "format": "d",
          "labelExpr": "indexof([0,-500,-1000], datum.value) >= 0 ? datum.label : ''",
          "labelFontSize": {"condition": {"test": "indexof([0,-500,-1000], datum.value) >= 0", "value": 18}, "value": 0},
          "tickSize": {"condition": {"test": "indexof([0,-500,-1000], datum.value) >= 0", "value": 7}, "value": 3.5},
          "gridOpacity": {"condition": {"test": "indexof([0,-500,-1000], datum.value) >= 0", "value": 1}, "value": 0}}},
      "y2": {"datum": 0},
      "color": {"field": "method", "type": "nominal", "scale": {"domain": ["concepts + latents", "concepts only", "random rotation", "random coordinates", "unselected library", "DAgger (raw state)"], "range": ["#F0E442", "#009E73", "#999999", "#BBBBBB", "#CC79A7", "#E69F00"]}}}},
    {"transform": [{"filter": "datum.pos === 0"}], "mark": {"type": "bar", "size": 16, "color": {"gradient": "linear", "x1": 0, "y1": 0, "x2": 0.208, "y2": 1.144, "stops": [
      {"offset": 0, "color": "#F0E442"}, {"offset": 0.1084, "color": "#F0E442"}, {"offset": 0.1084, "color": "#000"}, {"offset": 0.1372, "color": "#000"}, {"offset": 0.1372, "color": "#F0E442"},
      {"offset": 0.4288, "color": "#F0E442"}, {"offset": 0.4288, "color": "#000"}, {"offset": 0.4577, "color": "#000"}, {"offset": 0.4577, "color": "#F0E442"},
      {"offset": 0.7493, "color": "#F0E442"}, {"offset": 0.7493, "color": "#000"}, {"offset": 0.7782, "color": "#000"}, {"offset": 0.7782, "color": "#F0E442"},
      {"offset": 1, "color": "#F0E442"}]}},
     "encoding": {"x": {"field": "pos", "type": "quantitative"}, "y": {"field": "mean", "type": "quantitative"}, "y2": {"datum": 0}}},
    {"mark": {"type": "rule", "color": "#333333", "strokeWidth": 2}, "encoding": {"x": {"field": "pos", "type": "quantitative"}, "y": {"field": "lo", "type": "quantitative"}, "y2": {"field": "hi"}}},
    {"mark": {"type": "tick", "orient": "horizontal", "size": 8, "thickness": 2, "color": "#333333"}, "encoding": {"x": {"field": "pos", "type": "quantitative"}, "y": {"field": "lo", "type": "quantitative"}}},
    {"mark": {"type": "tick", "orient": "horizontal", "size": 8, "thickness": 2, "color": "#333333"}, "encoding": {"x": {"field": "pos", "type": "quantitative"}, "y": {"field": "hi", "type": "quantitative"}}}
   ]}
 ]},
{"width": 198, "height": 177,
 "layer": [
  {"data": {"values": [{}]}, "mark": {"type": "rule", "color": "#c0c0c0", "strokeWidth": 1.8}, "encoding": {"x": {"datum": 2.5, "type": "quantitative"}}},
  {"data": {"values": [{}]}, "mark": {"type": "rule", "color": "#c0c0c0", "strokeWidth": 1.8}, "encoding": {"x": {"datum": 5.5, "type": "quantitative"}}},
  {"data": {"name": "d"}, "transform": [{"filter": "datum.env === 'CartPole' && datum.metric === 'return'"}],
   "layer": [
    {"mark": {"type": "bar", "size": 16}, "encoding": {
      "x": {"field": "pos", "type": "quantitative", "scale": {"domain": [-0.75, 7.75], "nice": false, "zero": false}, "axis": {"ticks": false, "labels": false, "grid": false, "title": null}},
      "y": {"field": "mean", "type": "quantitative", "scale": {"domain": [0, 525], "nice": false, "zero": false},
        "axis": {"title": null, "tickCount": 100, "labelFont": "Liberation Serif", "labelOverlap": false, "values": [0,50,100,150,200,250,300,350,400,450,500], "format": "d",
          "labelExpr": "indexof([0,200,400], datum.value) >= 0 ? datum.label : ''",
          "labelFontSize": {"condition": {"test": "indexof([0,200,400], datum.value) >= 0", "value": 18}, "value": 0},
          "tickSize": {"condition": {"test": "indexof([0,200,400], datum.value) >= 0", "value": 7}, "value": 3.5},
          "gridOpacity": {"condition": {"test": "indexof([0,200,400], datum.value) >= 0", "value": 1}, "value": 0}}},
      "y2": {"datum": 0},
      "color": {"field": "method", "type": "nominal", "scale": {"domain": ["concepts + latents", "concepts only", "random rotation", "random coordinates", "unselected library", "DAgger (raw state)"], "range": ["#F0E442", "#009E73", "#999999", "#BBBBBB", "#CC79A7", "#E69F00"]}}}},
    {"transform": [{"filter": "datum.pos === 0"}], "mark": {"type": "bar", "size": 16, "color": {"gradient": "linear", "x1": 0, "y1": 0, "x2": 0.1030, "y2": 1.0851, "stops": [
      {"offset": 0, "color": "#F0E442"}, {"offset": 0.0894, "color": "#F0E442"}, {"offset": 0.0894, "color": "#000"}, {"offset": 0.1057, "color": "#000"}, {"offset": 0.1057, "color": "#F0E442"},
      {"offset": 0.2700, "color": "#F0E442"}, {"offset": 0.2700, "color": "#000"}, {"offset": 0.2862, "color": "#000"}, {"offset": 0.2862, "color": "#F0E442"},
      {"offset": 0.4505, "color": "#F0E442"}, {"offset": 0.4505, "color": "#000"}, {"offset": 0.4668, "color": "#000"}, {"offset": 0.4668, "color": "#F0E442"},
      {"offset": 0.6311, "color": "#F0E442"}, {"offset": 0.6311, "color": "#000"}, {"offset": 0.6473, "color": "#000"}, {"offset": 0.6473, "color": "#F0E442"},
      {"offset": 0.8116, "color": "#F0E442"}, {"offset": 0.8116, "color": "#000"}, {"offset": 0.8279, "color": "#000"}, {"offset": 0.8279, "color": "#F0E442"},
      {"offset": 0.9922, "color": "#F0E442"}, {"offset": 0.9922, "color": "#000"}, {"offset": 1, "color": "#000"}]}},
     "encoding": {"x": {"field": "pos", "type": "quantitative"}, "y": {"field": "mean", "type": "quantitative"}, "y2": {"datum": 0}}},
    {"mark": {"type": "rule", "color": "#333333", "strokeWidth": 2}, "encoding": {"x": {"field": "pos", "type": "quantitative"}, "y": {"field": "lo", "type": "quantitative"}, "y2": {"field": "hi"}}},
    {"mark": {"type": "tick", "orient": "horizontal", "size": 8, "thickness": 2, "color": "#333333"}, "encoding": {"x": {"field": "pos", "type": "quantitative"}, "y": {"field": "lo", "type": "quantitative"}}},
    {"mark": {"type": "tick", "orient": "horizontal", "size": 8, "thickness": 2, "color": "#333333"}, "encoding": {"x": {"field": "pos", "type": "quantitative"}, "y": {"field": "hi", "type": "quantitative"}}}
   ]}
 ]},
{"width": 198, "height": 177,
 "layer": [
  {"data": {"values": [{}]}, "mark": {"type": "rule", "color": "#c0c0c0", "strokeWidth": 1.8}, "encoding": {"x": {"datum": 2.5, "type": "quantitative"}}},
  {"data": {"values": [{}]}, "mark": {"type": "rule", "color": "#c0c0c0", "strokeWidth": 1.8}, "encoding": {"x": {"datum": 5.5, "type": "quantitative"}}},
  {"data": {"name": "d"}, "transform": [{"filter": "datum.env === 'NavModes' && datum.metric === 'return'"}],
   "layer": [
    {"mark": {"type": "bar", "size": 16}, "encoding": {
      "x": {"field": "pos", "type": "quantitative", "scale": {"domain": [-0.75, 7.75], "nice": false, "zero": false}, "axis": {"ticks": false, "labels": false, "grid": false, "title": null}},
      "y": {"field": "mean", "type": "quantitative", "scale": {"domain": [-11.46, 13.38], "nice": false, "zero": false},
        "axis": {"title": null, "tickCount": 100, "labelFont": "Liberation Serif", "labelOverlap": false, "values": [-10,-8,-6,-4,-2,0,2,4,6,8,10,12], "format": "d",
          "labelExpr": "indexof([-10,0,10], datum.value) >= 0 ? datum.label : ''",
          "labelFontSize": {"condition": {"test": "indexof([-10,0,10], datum.value) >= 0", "value": 18}, "value": 0},
          "tickSize": {"condition": {"test": "indexof([-10,0,10], datum.value) >= 0", "value": 7}, "value": 3.5},
          "gridOpacity": {"condition": {"test": "indexof([-10,0,10], datum.value) >= 0", "value": 1}, "value": 0}}},
      "y2": {"datum": 0},
      "color": {"field": "method", "type": "nominal", "scale": {"domain": ["concepts + latents", "concepts only", "random rotation", "random coordinates", "unselected library", "DAgger (raw state)"], "range": ["#F0E442", "#009E73", "#999999", "#BBBBBB", "#CC79A7", "#E69F00"]}}}},
    {"transform": [{"filter": "datum.pos === 0"}], "mark": {"type": "bar", "size": 16, "color": {"gradient": "linear", "x1": 0, "y1": 0, "x2": 0.2577, "y2": 1.1643, "stops": [
      {"offset": 0, "color": "#F0E442"}, {"offset": 0.1761, "color": "#F0E442"}, {"offset": 0.1761, "color": "#000"}, {"offset": 0.2101, "color": "#000"}, {"offset": 0.2101, "color": "#F0E442"},
      {"offset": 0.5536, "color": "#F0E442"}, {"offset": 0.5536, "color": "#000"}, {"offset": 0.5875, "color": "#000"}, {"offset": 0.5875, "color": "#F0E442"},
      {"offset": 0.9310, "color": "#F0E442"}, {"offset": 0.9310, "color": "#000"}, {"offset": 0.9650, "color": "#000"}, {"offset": 0.9650, "color": "#F0E442"},
      {"offset": 1, "color": "#F0E442"}]}},
     "encoding": {"x": {"field": "pos", "type": "quantitative"}, "y": {"field": "mean", "type": "quantitative"}, "y2": {"datum": 0}}},
    {"mark": {"type": "rule", "color": "#333333", "strokeWidth": 2}, "encoding": {"x": {"field": "pos", "type": "quantitative"}, "y": {"field": "lo", "type": "quantitative"}, "y2": {"field": "hi"}}},
    {"mark": {"type": "tick", "orient": "horizontal", "size": 8, "thickness": 2, "color": "#333333"}, "encoding": {"x": {"field": "pos", "type": "quantitative"}, "y": {"field": "lo", "type": "quantitative"}}},
    {"mark": {"type": "tick", "orient": "horizontal", "size": 8, "thickness": 2, "color": "#333333"}, "encoding": {"x": {"field": "pos", "type": "quantitative"}, "y": {"field": "hi", "type": "quantitative"}}}
   ]}
 ]},
{"width": 198, "height": 177,
 "layer": [
  {"data": {"values": [{}]}, "mark": {"type": "rule", "color": "#c0c0c0", "strokeWidth": 1.8}, "encoding": {"x": {"datum": 2.5, "type": "quantitative"}}},
  {"data": {"values": [{}]}, "mark": {"type": "rule", "color": "#c0c0c0", "strokeWidth": 1.8}, "encoding": {"x": {"datum": 5.5, "type": "quantitative"}}},
  {"data": {"name": "d"}, "transform": [{"filter": "datum.env === 'Hopper' && datum.metric === 'return'"}],
   "layer": [
    {"mark": {"type": "bar", "size": 16}, "encoding": {
      "x": {"field": "pos", "type": "quantitative", "scale": {"domain": [-0.75, 7.75], "nice": false, "zero": false}, "axis": {"ticks": false, "labels": false, "grid": false, "title": null}},
      "y": {"field": "mean", "type": "quantitative", "scale": {"domain": [0, 248], "nice": false, "zero": false},
        "axis": {"title": null, "tickCount": 100, "labelFont": "Liberation Serif", "labelOverlap": false, "values": [0,20,40,60,80,100,120,140,160,180,200,220,240], "format": "d",
          "labelExpr": "indexof([0,100,200], datum.value) >= 0 ? datum.label : ''",
          "labelFontSize": {"condition": {"test": "indexof([0,100,200], datum.value) >= 0", "value": 18}, "value": 0},
          "tickSize": {"condition": {"test": "indexof([0,100,200], datum.value) >= 0", "value": 7}, "value": 3.5},
          "gridOpacity": {"condition": {"test": "indexof([0,100,200], datum.value) >= 0", "value": 1}, "value": 0}}},
      "y2": {"datum": 0},
      "color": {"field": "method", "type": "nominal", "scale": {"domain": ["concepts + latents", "concepts only", "random rotation", "random coordinates", "unselected library", "DAgger (raw state)"], "range": ["#F0E442", "#009E73", "#999999", "#BBBBBB", "#CC79A7", "#E69F00"]}}}},
    {"transform": [{"filter": "datum.pos === 0"}], "mark": {"type": "bar", "size": 16, "color": {"gradient": "linear", "x1": 0, "y1": 0, "x2": 0.1706, "y2": 1.1257, "stops": [
      {"offset": 0, "color": "#F0E442"}, {"offset": 0.1161, "color": "#F0E442"}, {"offset": 0.1161, "color": "#000"}, {"offset": 0.1408, "color": "#000"}, {"offset": 0.1408, "color": "#F0E442"},
      {"offset": 0.3902, "color": "#F0E442"}, {"offset": 0.3902, "color": "#000"}, {"offset": 0.4149, "color": "#000"}, {"offset": 0.4149, "color": "#F0E442"},
      {"offset": 0.6643, "color": "#F0E442"}, {"offset": 0.6643, "color": "#000"}, {"offset": 0.6890, "color": "#000"}, {"offset": 0.6890, "color": "#F0E442"},
      {"offset": 0.9384, "color": "#F0E442"}, {"offset": 0.9384, "color": "#000"}, {"offset": 0.9631, "color": "#000"}, {"offset": 0.9631, "color": "#F0E442"},
      {"offset": 1, "color": "#F0E442"}]}},
     "encoding": {"x": {"field": "pos", "type": "quantitative"}, "y": {"field": "mean", "type": "quantitative"}, "y2": {"datum": 0}}},
    {"mark": {"type": "rule", "color": "#333333", "strokeWidth": 2}, "encoding": {"x": {"field": "pos", "type": "quantitative"}, "y": {"field": "lo", "type": "quantitative"}, "y2": {"field": "hi"}}},
    {"mark": {"type": "tick", "orient": "horizontal", "size": 8, "thickness": 2, "color": "#333333"}, "encoding": {"x": {"field": "pos", "type": "quantitative"}, "y": {"field": "lo", "type": "quantitative"}}},
    {"mark": {"type": "tick", "orient": "horizontal", "size": 8, "thickness": 2, "color": "#333333"}, "encoding": {"x": {"field": "pos", "type": "quantitative"}, "y": {"field": "hi", "type": "quantitative"}}}
   ]}
 ]}
],
"config": {
 "font": "Liberation Serif",
 "view": {"stroke": null},
 "axis": {"domainColor": "#3a3a3a", "domainWidth": 1.6, "tickColor": "#3a3a3a", "tickWidth": 1.2, "labelFont": "Liberation Serif", "labelFontSize": 18, "labelColor": "#333333", "labelPadding": 3, "labelOverlap": false, "titleFont": "Liberation Serif", "titleFontSize": 21, "titleFontWeight": "normal", "titleColor": "#222222", "titlePadding": 16, "gridColor": "#cccccc", "gridDash": [4, 3], "gridWidth": 1},
 "legend": {"labelFont": "Liberation Serif", "labelFontSize": 18, "labelColor": "#222222", "symbolType": "M-1,-0.62H1V0.62H-1Z", "symbolSize": 441, "symbolStrokeWidth": 0, "symbolOpacity": 1, "labelOffset": 16, "columnPadding": 16, "padding": 0},
 "title": {"font": "Liberation Serif", "fontSize": 21, "fontWeight": "normal", "color": "#111111"}
}
}
